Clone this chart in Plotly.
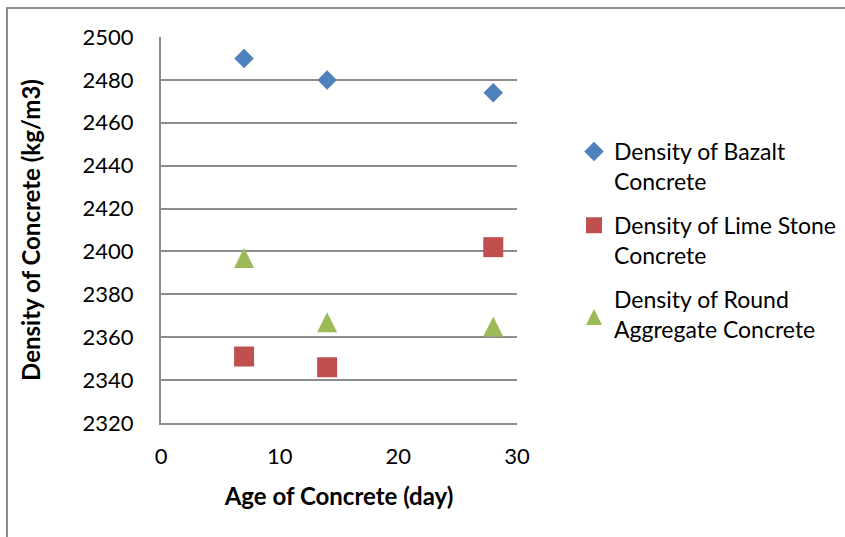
import plotly.graph_objects as go

# Concrete age (days) and measured densities (kg/m3)
age_days = [7, 14, 28]
bazalt_density = [2490, 2480, 2474]
limestone_density = [2351, 2346, 2402]
round_agg_density = [2397, 2367, 2365]

series_names = [
    "Density of Bazalt<br>Concrete",
    "Density of Lime Stone<br>Concrete",
    "Density of Round<br>Aggregate Concrete",
]
x_title = "Age of Concrete (day)"
y_title = "Density of Concrete (kg/m3)"

W, H = 845, 537
ML, MR, MT, MB = 161, 328, 37, 114
PW, PH = W - ML - MR, H - MT - MB

def px_to_paper(px, py):
    return (px - ML) / PW, (H - MB - py) / PH

FONT = "Lato"
GRID = "#8c8c8c"

fig = go.Figure()
fig.add_trace(go.Scatter(
    x=age_days, y=bazalt_density, mode="markers", name=series_names[0],
    legendgroup="a",
    marker=dict(symbol="diamond", size=15, color="#4F81BD",
                line=dict(width=0)),
))
fig.add_trace(go.Scatter(
    x=age_days, y=limestone_density, mode="markers", name=series_names[1],
    legendgroup="b",
    marker=dict(symbol="square", size=20, color="#C0504D",
                line=dict(width=0)),
))
# upward triangle as tall as it is wide, centred on the data point
fig.add_trace(go.Scatter(
    x=age_days, y=round_agg_density, mode="markers", name=series_names[2],
    legendgroup="c",
    marker=dict(symbol="arrow-down", angle=180, size=20, standoff=10,
                color="#9BBB59", line=dict(width=0)),
))

# outer chart frame
x0, y0 = px_to_paper(7, 600)
x1, y1 = px_to_paper(900, 8)
fig.add_shape(type="rect", xref="paper", yref="paper",
              x0=x0, y0=y0, x1=x1, y1=y1,
              line=dict(color=GRID, width=2), layer="above")

lx, ly = px_to_paper(574, 130)

fig.update_layout(
    width=W, height=H, autosize=False,
    margin=dict(l=ML, r=MR, t=MT, b=MB, pad=0, autoexpand=False),
    paper_bgcolor="white", plot_bgcolor="white",
    font=dict(family=FONT, size=22, color="black"),
    showlegend=True,
    legend=dict(
        x=lx, y=ly, xanchor="left", yanchor="top",
        bgcolor="rgba(0,0,0,0)", borderwidth=0,
        font=dict(family=FONT, size=23, color="black"),
        traceorder="grouped", tracegroupgap=11, valign="top",
    ),
    xaxis=dict(
        range=[0, 30], dtick=10, tick0=0,
        showline=True, linecolor=GRID, linewidth=2,
        showgrid=False, zeroline=False, ticks="",
        ticklabelstandoff=13,
        tickfont=dict(family=FONT, size=22, color="black"),
        title=dict(text=x_title, standoff=20,
                   font=dict(family=FONT, size=24, weight="bold", color="black")),
    ),
    yaxis=dict(
        range=[2320, 2500], dtick=20, tick0=2320,
        showline=True, linecolor=GRID, linewidth=2,
        showgrid=True, gridcolor=GRID, gridwidth=2,
        zeroline=False, ticks="",
        ticklabelstandoff=21,
        tickfont=dict(family=FONT, size=22, color="black"),
        title=dict(text=y_title, standoff=35,
                   font=dict(family=FONT, size=24, weight="bold", color="black")),
    ),
)

fig.write_html("out.html")
